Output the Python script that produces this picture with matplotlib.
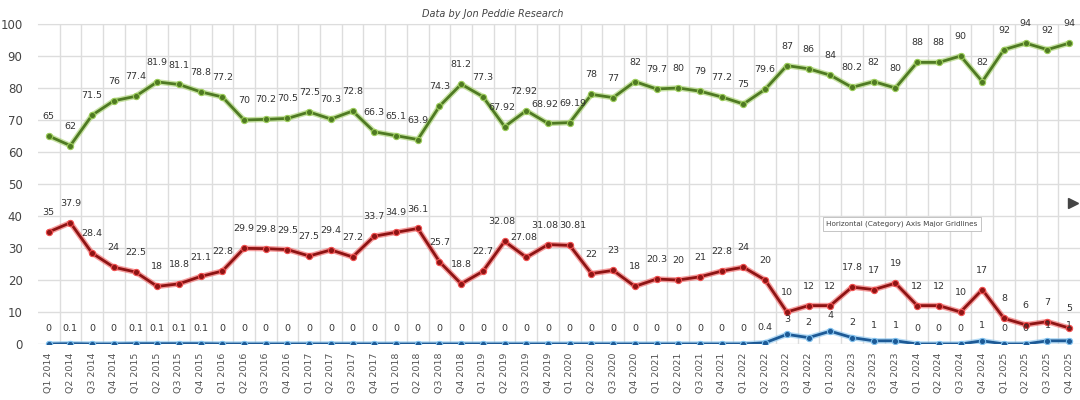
import matplotlib
matplotlib.use("Agg")
import matplotlib.pyplot as plt
import numpy as np

quarters = [f"Q{q} {y}" for y in range(2014, 2026) for q in range(1, 5)]

green_vals = [65, 62, 71.5, 76, 77.4, 81.9, 81.1, 78.8, 77.2, 70, 70.2, 70.5,
              72.5, 70.3, 72.8, 66.3, 65.1, 63.9, 74.3, 81.2, 77.3, 67.92, 72.92, 68.92,
              69.19, 78, 77, 82, 79.7, 80, 79, 77.2, 75, 79.6, 87, 86,
              84, 80.2, 82, 80, 88, 88, 90, 82, 92, 94, 92, 94]
red_vals = [35, 37.9, 28.4, 24, 22.5, 18, 18.8, 21.1, 22.8, 29.9, 29.8, 29.5,
            27.5, 29.4, 27.2, 33.7, 34.9, 36.1, 25.7, 18.8, 22.7, 32.08, 27.08, 31.08,
            30.81, 22, 23, 18, 20.3, 20, 21, 22.8, 24, 20, 10, 12,
            12, 17.8, 17, 19, 12, 12, 10, 17, 8, 6, 7, 5]
blue_vals = [0, 0.1, 0, 0, 0.1, 0.1, 0.1, 0.1, 0, 0, 0, 0,
             0, 0, 0, 0, 0, 0, 0, 0, 0, 0, 0, 0,
             0, 0, 0, 0, 0, 0, 0, 0, 0, 0.4, 3, 2,
             4, 2, 1, 1, 0, 0, 0, 1, 0, 0, 1, 1]


def fmt(v):
    return f"{v:g}"


fig = plt.figure(figsize=(10.8, 4), dpi=100)
ax = fig.add_axes([0.035, 0.14, 0.965, 0.80])
x = np.arange(len(quarters))

series = [
    (green_vals, "#4f7a23", "#9ccc5a", 14),
    (red_vals, "#8e1414", "#f05050", 14),
    (blue_vals, "#1d5a96", "#7fc0ee", 11),
]
for vals, dark, glow, off in series:
    ax.plot(x, vals, color=glow, lw=4, alpha=0.55, zorder=3, solid_capstyle="round")
    ax.plot(x, vals, color=dark, lw=2, marker="o", ms=4.5, mfc=dark, mec=glow,
            mew=0.8, zorder=4)
    for xi, v in zip(x, vals):
        txt = fmt(v)
        dx = 0
        # crowded neighbouring labels with 4-5 characters: pull apart a bit
        if len(txt) >= 5:
            if xi + 1 < len(vals) and len(fmt(vals[xi + 1])) >= 5:
                dx = -2
            elif xi > 0 and len(fmt(vals[xi - 1])) >= 5:
                dx = 2
        ax.annotate(txt, (xi, v), xytext=(dx, off), textcoords="offset points",
                    ha="center", va="center", fontsize=6.8, color="#333333", zorder=5)

ax.set_xlim(-0.5, len(quarters) - 0.5)
ax.set_ylim(0, 100)
ax.set_yticks(range(0, 101, 10))
ax.set_xticks(x)
ax.set_xticklabels(quarters, rotation=90, fontsize=6.8, color="#555555")
ax.set_xticks(x[:-1] + 0.5, minor=True)
ax.tick_params(axis="x", which="both", length=0, pad=6)
ax.tick_params(axis="y", length=0, pad=11, labelsize=8.5, labelcolor="#444444")
ax.grid(axis="y", color="#dddddd", lw=1)
ax.grid(axis="x", which="minor", color="#dddddd", lw=1)
ax.set_axisbelow(True)
for s in ax.spines.values():
    s.set_visible(False)
ax.spines["top"].set_visible(True)
ax.spines["top"].set_color("#dddddd")

fig.text(0.456, 0.965, "Data by Jon Peddie Research", ha="center", va="center",
         fontsize=7, style="italic", color="#444444")
ax.text(39.3, 37.5, "Horizontal (Category) Axis Major Gridlines", ha="center", va="center",
        fontsize=5.2, color="#444444",
        bbox=dict(boxstyle="square,pad=0.5", fc="white", ec="#bbbbbb", lw=0.6))
ax.plot([47.2], [44], marker=">", ms=7, color="#444444", clip_on=False, zorder=6)

fig.savefig("out.png", dpi=100)
